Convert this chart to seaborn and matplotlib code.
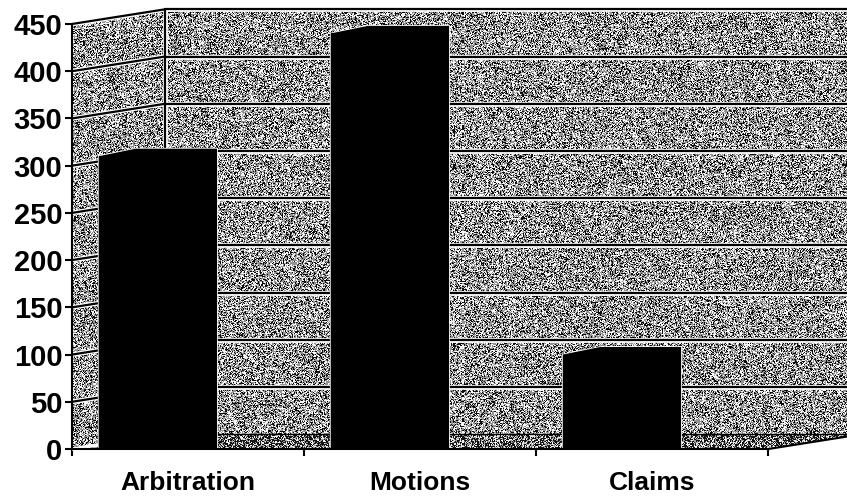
import numpy as np
import pandas as pd
import matplotlib
matplotlib.use("Agg")
import matplotlib.pyplot as plt
from matplotlib.patches import Polygon
import seaborn as sns

# Filings by type
categories = ["Arbitration", "Motions", "Claims"]
counts = [310, 440, 100]
y_ticks = [0, 50, 100, 150, 200, 250, 300, 350, 400, 450]

sns.set_theme(style="white")
plt.rcParams["font.family"] = ["Liberation Sans", "DejaVu Sans"]

W, H = 847, 499
fig = plt.figure(figsize=(W / 100, H / 100), dpi=100)
ax = fig.add_axes([72 / W, 1 - 470 / H, 775 / W, 470 / H])

XLIM = (-0.5, 2.84)
YLIM = (-22.2, 475.4)
DX, DY = 0.40, 15.5          # depth offset of the back wall
BAR_SHIFT = -0.13            # perspective shift of the columns
TOP_DX, TOP_DY = 0.16, 8     # visible top face of each column

df = pd.DataFrame({"category": categories, "count": counts})
sns.barplot(data=df, x="category", y="count", color="black", saturation=1,
            width=0.51, edgecolor="none", linewidth=0, ax=ax, zorder=4)
bars = list(ax.patches)
for b in bars:
    b.set_x(b.get_x() + BAR_SHIFT)
    x0, x1, h = b.get_x(), b.get_x() + b.get_width(), b.get_height()
    outline = [(x0, 0), (x0, h), (x0 + TOP_DX, h + TOP_DY), (x1, h + TOP_DY), (x1, 0)]
    top = Polygon(outline, closed=True, facecolor="black", edgecolor="none", zorder=4)
    ax.add_patch(top)
    xs, ys = zip(*outline)
    ax.plot(xs, ys, color="white", lw=1.2, zorder=3.9)

# Stippled wall texture
rng = np.random.default_rng(11)
shape = (470, 775)
t = rng.random(shape)
wall_tex = np.select([t < 0.27, t < 0.60], [0.05, 0.97], default=0.58)
t2 = rng.random(shape)
floor_tex = np.select([t2 < 0.50, t2 < 0.75], [0.08, 0.62], default=0.95)

x_left, x_back = XLIM[0], XLIM[0] + DX
side = Polygon([(x_left, 0), (x_left, 450), (x_back, 450 + DY), (x_back, DY)],
               closed=True, fill=False, edgecolor="none")
back = Polygon([(x_back, DY), (x_back, 450 + DY), (XLIM[1], 450 + DY), (XLIM[1], DY)],
               closed=True, fill=False, edgecolor="none")
floor = Polygon([(x_left, 0), (2.5, 0), (2.5 + DX, DY), (x_back, DY)],
                closed=True, fill=False, edgecolor="none")
extent = (XLIM[0], XLIM[1], YLIM[0], YLIM[1])
for patch, tex in [(side, wall_tex), (back, wall_tex), (floor, floor_tex)]:
    ax.add_patch(patch)
    im = ax.imshow(tex, extent=extent, cmap="gray", vmin=0, vmax=1,
                   aspect="auto", interpolation="nearest", zorder=0)
    im.set_clip_path(patch)

# Gridlines on the back and side walls
for v in y_ticks[1:]:
    ax.plot([x_back, XLIM[1]], [v + DY, v + DY], color="white", lw=3.4, zorder=1)
    ax.plot([x_back, XLIM[1]], [v + DY, v + DY], color="black", lw=1.6, zorder=2)
    ax.plot([x_left, x_back], [v, v + DY], color="white", lw=3.4, zorder=1)
    ax.plot([x_left, x_back], [v, v + DY], color="black", lw=1.6, zorder=2)
ax.plot([x_back, x_back], [DY, 450 + DY], color="white", lw=3.4, zorder=1)
ax.plot([x_back, x_back], [DY, 450 + DY], color="black", lw=1.6, zorder=2)
ax.plot([x_left, x_back], [0, DY], color="white", lw=2.5, zorder=3)
ax.plot([x_back, XLIM[1]], [DY, DY], color="black", lw=1.0, zorder=3)
ax.plot([2.5, 2.5 + DX], [0, DY], color="black", lw=1.5, zorder=5, clip_on=True)

ax.set_xlim(*XLIM)
ax.set_ylim(*YLIM)

# Axes lines and ticks
for s in ["top", "right"]:
    ax.spines[s].set_visible(False)
ax.spines["left"].set_bounds(0, 450)
ax.spines["bottom"].set_position(("data", 0))
ax.spines["bottom"].set_bounds(-0.5, 2.5)
for s in ["left", "bottom"]:
    ax.spines[s].set_color("black")
    ax.spines[s].set_linewidth(1.5)
    ax.spines[s].set_zorder(6)

ax.set_yticks(y_ticks)
ax.set_yticklabels([str(v) for v in y_ticks])
ax.set_xticks([-0.5, 0.5, 1.5, 2.5])
ax.set_xticklabels([])
ax.set_xticks(range(len(categories)), minor=True)
ax.set_xticklabels(categories, minor=True)
ax.tick_params(axis="y", which="major", direction="out", length=5, width=1.5,
               color="black", pad=2, labelsize=21, left=True)
ax.tick_params(axis="x", which="major", direction="out", length=5, width=1.5,
               color="black", bottom=True)
ax.tick_params(axis="x", which="minor", length=0, pad=16, labelsize=19)
for lbl in ax.get_yticklabels() + ax.get_xticklabels(minor=True):
    lbl.set_fontweight("bold")
    lbl.set_color("black")
ax.set_xlabel("")
ax.set_ylabel("")
ax.grid(False)

fig.savefig("out.png", dpi=100, facecolor="white")
